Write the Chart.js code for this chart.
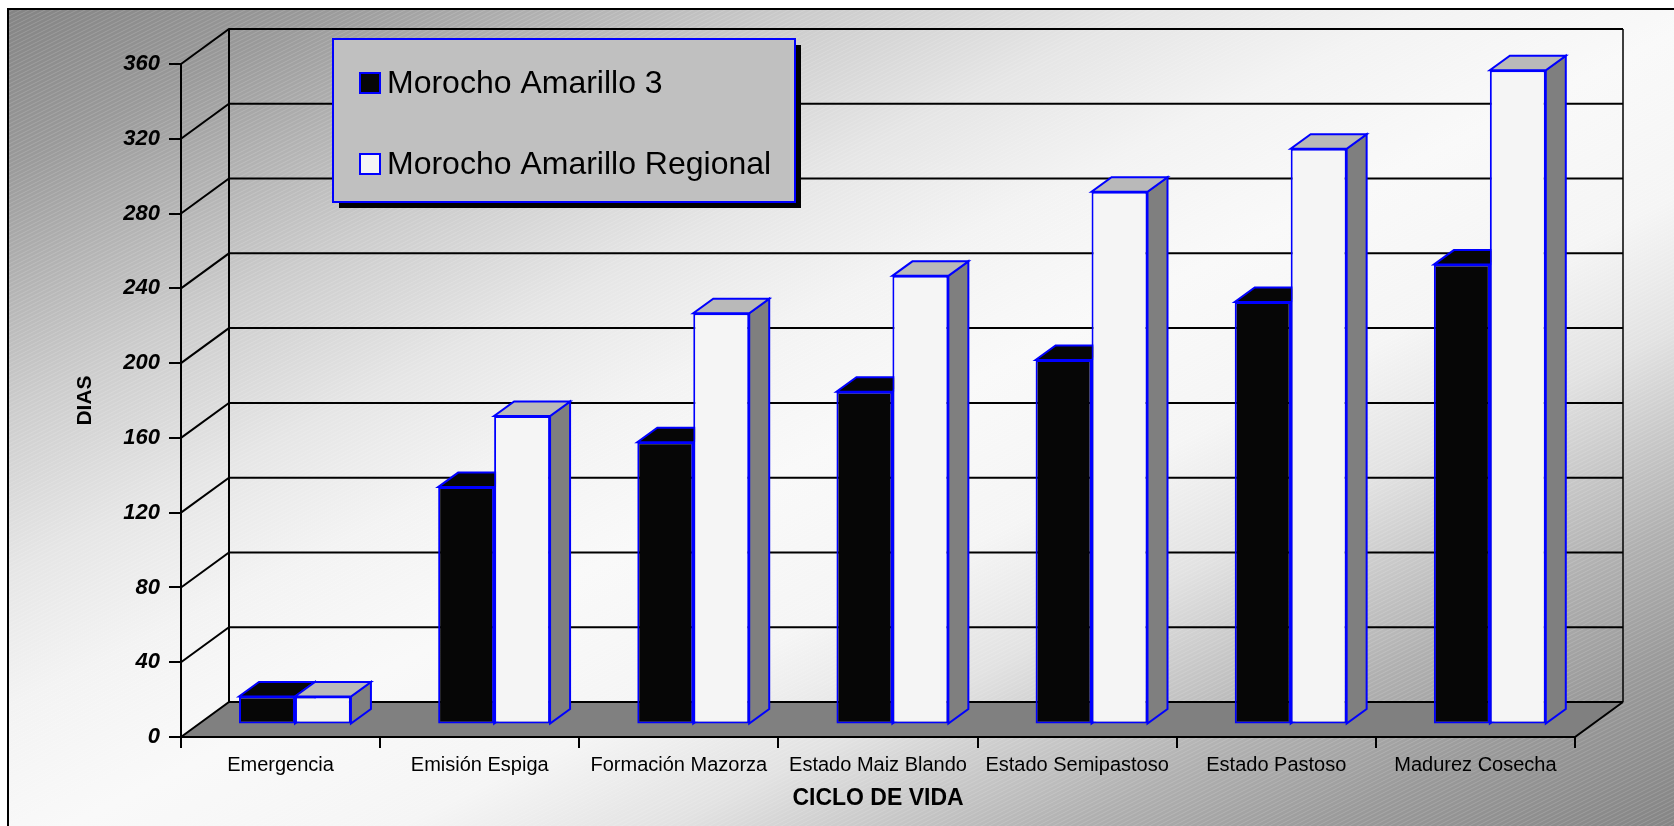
<!DOCTYPE html>
<html lang="es">
<head>
<meta charset="UTF-8">
<title>Ciclo de vida - Morocho Amarillo</title>
<script src="https://cdn.jsdelivr.net/npm/chart.js"></script>
<style>
  html, body { margin: 0; padding: 0; background: #fff; }
  canvas { display: block; }
</style>
</head>
<body>
<canvas id="grafico" width="1674" height="826"></canvas>
<script>
// datos (dias por etapa)
const etapas = ['Emergencia', 'Emisión Espiga', 'Formación Mazorza', 'Estado Maiz Blando', 'Estado Semipastoso', 'Estado Pastoso', 'Madurez Cosecha'];
const amarillo3 = [15, 127, 151, 178, 195, 226, 246];
const amarilloRegional = [15, 165, 220, 240, 285, 308, 350];
const series = ['Morocho Amarillo 3', 'Morocho Amarillo Regional'];
const ticksY = [0, 40, 80, 120, 160, 200, 240, 280, 320, 360];

const FUENTE = "'Liberation Sans', Arial, sans-serif";
Chart.defaults.font.family = FUENTE;
Chart.defaults.color = '#000';

// profundidad de la pared del fondo y de las barras
const PARED = { dx: 48, dy: -35 };
const BARRA = { dx: 14.4, dy: -12.5, prof: 20, alto: -14.5 };

const fondo = {
  id: 'fondo',
  beforeDraw(chart) {
    const { ctx, width, height } = chart;
    ctx.save();
    ctx.fillStyle = '#fff';
    ctx.fillRect(0, 0, width, height);
    // degradado en diagonal: oscuro en las esquinas sup-izq e inf-der
    const cx = width / 2, cy = height / 2;
    const k = (cx * height + cy * width) / (height * height + width * width);
    const g = ctx.createLinearGradient(cx - k * height, cy - k * width, cx + k * height, cy + k * width);
    g.addColorStop(0, '#828282');
    g.addColorStop(0.1, '#999999');
    g.addColorStop(0.25, '#cccccc');
    g.addColorStop(0.35, '#e6e6e6');
    g.addColorStop(0.43, '#f3f3f3');
    g.addColorStop(0.52, '#f9f9f9');
    g.addColorStop(0.62, '#f5f5f5');
    g.addColorStop(0.7, '#e2e2e2');
    g.addColorStop(0.76, '#c8c8c8');
    g.addColorStop(0.82, '#b0b0b0');
    g.addColorStop(0.9, '#999999');
    g.addColorStop(1, '#858585');
    ctx.beginPath();
    ctx.rect(8, 9, width, height);
    ctx.clip();
    ctx.fillStyle = g;
    ctx.fillRect(8, 9, width, height);
    // rayado fino diagonal
    ctx.strokeStyle = 'rgba(255,255,255,0.16)';
    ctx.lineWidth = 1;
    ctx.beginPath();
    for (let y = 0; y < height + width * 0.5; y += 4) {
      ctx.moveTo(0, y + 0.5);
      ctx.lineTo(width, y + 0.5 - width * 0.5);
    }
    ctx.stroke();
    ctx.restore();
    ctx.save();
    ctx.strokeStyle = '#000';
    ctx.lineWidth = 2;
    ctx.strokeRect(8, 9, width + 20, height + 20);
    ctx.restore();
  }
};

function caras(ctx, chart) {
  chart.data.datasets.forEach((ds, i) => {
    const meta = chart.getDatasetMeta(i);
    meta.data.forEach(bar => {
      const { x, y, base, width } = bar.getProps(['x', 'y', 'base', 'width'], true);
      const l = x - width / 2, r = x + width / 2;
      ctx.strokeStyle = ds.borderColor;
      ctx.lineWidth = 2;
      ctx.lineJoin = 'miter';
      // lateral
      ctx.beginPath();
      ctx.moveTo(r, y);
      ctx.lineTo(r + BARRA.prof, y + BARRA.alto);
      ctx.lineTo(r + BARRA.prof, base + BARRA.alto);
      ctx.lineTo(r, base);
      ctx.closePath();
      ctx.fillStyle = ds.sideColor;
      ctx.fill();
      ctx.stroke();
      // superior
      ctx.beginPath();
      ctx.moveTo(l, y);
      ctx.lineTo(r, y);
      ctx.lineTo(r + BARRA.prof, y + BARRA.alto);
      ctx.lineTo(l + BARRA.prof, y + BARRA.alto);
      ctx.closePath();
      ctx.fillStyle = ds.topColor;
      ctx.fill();
      ctx.stroke();
    });
  });
}

const paredes = {
  id: 'paredes',
  beforeDatasetsDraw(chart) {
    const { ctx, chartArea: a, scales: { y } } = chart;
    const dx = PARED.dx, dy = PARED.dy;
    ctx.save();
    ctx.fillStyle = '#808080';
    ctx.beginPath();
    ctx.moveTo(a.left, a.bottom);
    ctx.lineTo(a.right, a.bottom);
    ctx.lineTo(a.right + dx, a.bottom + dy);
    ctx.lineTo(a.left + dx, a.bottom + dy);
    ctx.closePath();
    ctx.fill();

    ctx.strokeStyle = '#000';
    ctx.lineWidth = 2;
    ctx.beginPath();
    ticksY.forEach(v => {
      const py = y.getPixelForValue(v);
      ctx.moveTo(a.left, py);
      ctx.lineTo(a.left + dx, py + dy);
      ctx.lineTo(a.right + dx, py + dy);
    });
    ctx.moveTo(a.left + dx, a.top + dy);
    ctx.lineTo(a.left + dx, a.bottom + dy);
    ctx.moveTo(a.left, a.top);
    ctx.lineTo(a.left, a.bottom);
    ctx.lineTo(a.right, a.bottom);
    ctx.lineTo(a.right + dx, a.bottom + dy);
    ctx.stroke();
    ctx.lineWidth = 1.5;
    ctx.beginPath();
    ctx.moveTo(a.right + dx, a.top + dy);
    ctx.lineTo(a.right + dx, a.bottom + dy);
    ctx.stroke();
    ctx.restore();

    // las barras se dibujan en el plano medio del piso
    ctx.save();
    ctx.translate(BARRA.dx, BARRA.dy);
    caras(ctx, chart);
  },
  afterDatasetsDraw(chart) {
    chart.ctx.restore();
  }
};

const leyenda = {
  id: 'leyenda',
  afterDraw(chart) {
    const ctx = chart.ctx;
    const caja = { x: 333, y: 39, w: 462, h: 163 };
    ctx.save();
    ctx.fillStyle = '#000';
    ctx.fillRect(caja.x + 6, caja.y + 6, caja.w, caja.h);
    ctx.fillStyle = '#c0c0c0';
    ctx.fillRect(caja.x, caja.y, caja.w, caja.h);
    ctx.strokeStyle = '#0000ff';
    ctx.lineWidth = 2;
    ctx.strokeRect(caja.x, caja.y, caja.w, caja.h);
    ctx.font = '32px ' + FUENTE;
    ctx.textBaseline = 'middle';
    chart.data.datasets.forEach((ds, i) => {
      const cy = 83 + i * 81;
      ctx.fillStyle = ds.backgroundColor;
      ctx.fillRect(360, cy - 10, 20, 20);
      ctx.strokeRect(360, cy - 10, 20, 20);
      ctx.fillStyle = '#000';
      ctx.fillText(ds.label, 387, cy + 1);
    });
    ctx.restore();
  }
};

new Chart(document.getElementById('grafico'), {
  type: 'bar',
  data: {
    labels: etapas,
    datasets: [
      { label: series[0], data: amarillo3, backgroundColor: '#060606', topColor: '#060606', sideColor: '#7f7f7f',
        borderColor: '#0000ff', borderWidth: 2, borderSkipped: false, clip: false },
      { label: series[1], data: amarilloRegional, backgroundColor: '#f5f5f5', topColor: '#b9b9b9', sideColor: '#7f7f7f',
        borderColor: '#0000ff', borderWidth: 2, borderSkipped: false, clip: false }
    ]
  },
  options: {
    responsive: false,
    animation: false,
    devicePixelRatio: 1,
    layout: { padding: { left: 0, top: 64, right: 99, bottom: 0 } },
    datasets: { bar: { categoryPercentage: 0.562, barPercentage: 1 } },
    plugins: { legend: { display: false }, tooltip: { enabled: false } },
    scales: {
      x: {
        grid: { drawOnChartArea: false, drawTicks: true, tickLength: 11, color: '#000', lineWidth: 2 },
        border: { display: false },
        ticks: { autoSkip: false, maxRotation: 0, minRotation: 0, padding: 5, font: { size: 20 } },
        title: { display: true, text: 'CICLO DE VIDA', font: { size: 23, weight: 'bold' }, padding: { top: 0, bottom: 14 } },
        afterFit(s) { s.height = 89; }
      },
      y: {
        min: ticksY[0],
        max: ticksY[ticksY.length - 1],
        grid: { drawOnChartArea: false, drawTicks: true, tickLength: 12, color: '#000', lineWidth: 2 },
        border: { display: false },
        ticks: { stepSize: ticksY[1] - ticksY[0], padding: 9, font: { size: 22, weight: 'bold', style: 'italic' } },
        title: { display: true, text: 'DIAS', font: { size: 21, weight: 'bold' }, padding: { top: 73, bottom: 0 } },
        afterFit(s) { s.width = 181; }
      }
    }
  },
  plugins: [fondo, paredes, leyenda]
});
</script>
</body>
</html>
